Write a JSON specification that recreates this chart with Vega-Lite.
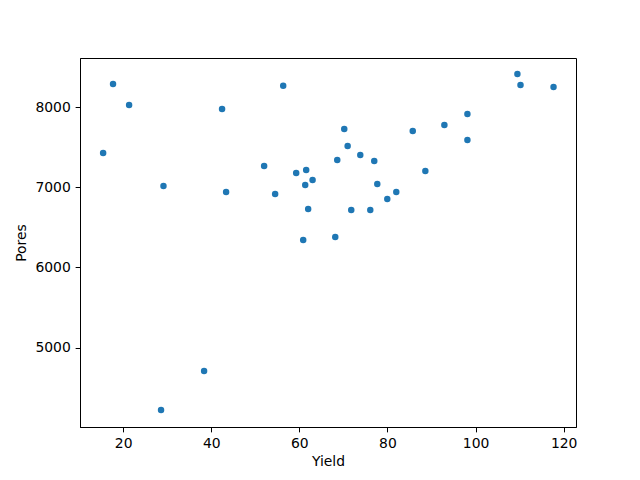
{
  "$schema": "https://vega.github.io/schema/vega-lite/v6.json",
  "autosize": {"type": "none"},
  "width": 496,
  "height": 369,
  "padding": {"left": 80, "top": 58, "right": 64, "bottom": 53},
  "background": "white",
  "config": {
    "view": {"stroke": "black", "strokeWidth": 1},
    "font": "DejaVu Sans",
    "axis": {
      "grid": false,
      "domainColor": "black",
      "domainWidth": 1,
      "tickColor": "black",
      "tickSize": 4.86,
      "tickWidth": 1,
      "labelPadding": 4.86,
      "labelFont": "DejaVu Sans",
      "labelFontSize": 13.9,
      "labelColor": "black",
      "titleFont": "DejaVu Sans",
      "titleFontSize": 13.9,
      "titleFontWeight": "normal",
      "titleColor": "black"
    }
  },
  "data": {
    "values": [
      {"Yield": 17.7, "Pores": 8287},
      {"Yield": 21.35, "Pores": 8025},
      {"Yield": 15.45, "Pores": 7426},
      {"Yield": 29.15, "Pores": 7015},
      {"Yield": 42.45, "Pores": 7975},
      {"Yield": 43.37, "Pores": 6940},
      {"Yield": 56.33, "Pores": 8266},
      {"Yield": 52.0, "Pores": 7264},
      {"Yield": 54.5, "Pores": 6915},
      {"Yield": 59.28, "Pores": 7177},
      {"Yield": 61.55, "Pores": 7214},
      {"Yield": 63.0, "Pores": 7090},
      {"Yield": 61.33, "Pores": 7027},
      {"Yield": 62.0, "Pores": 6728},
      {"Yield": 60.87, "Pores": 6342},
      {"Yield": 109.5, "Pores": 8411},
      {"Yield": 110.2, "Pores": 8274},
      {"Yield": 117.7, "Pores": 8249},
      {"Yield": 98.15, "Pores": 7913},
      {"Yield": 98.15, "Pores": 7589},
      {"Yield": 92.92, "Pores": 7776},
      {"Yield": 85.74, "Pores": 7701},
      {"Yield": 88.6, "Pores": 7202},
      {"Yield": 70.19, "Pores": 7726},
      {"Yield": 70.96, "Pores": 7514},
      {"Yield": 68.6, "Pores": 7339},
      {"Yield": 73.83, "Pores": 7401},
      {"Yield": 77.0, "Pores": 7327},
      {"Yield": 77.69, "Pores": 7040},
      {"Yield": 82.0, "Pores": 6940},
      {"Yield": 79.96, "Pores": 6853},
      {"Yield": 71.78, "Pores": 6716},
      {"Yield": 76.1, "Pores": 6716},
      {"Yield": 68.15, "Pores": 6379},
      {"Yield": 38.37, "Pores": 4708},
      {"Yield": 28.6, "Pores": 4222}
    ]
  },
  "mark": {"type": "circle", "size": 42, "color": "#1f77b4", "opacity": 1},
  "encoding": {
    "x": {
      "field": "Yield",
      "type": "quantitative",
      "scale": {"domain": [10.2, 122.8], "nice": false, "zero": false},
      "axis": {"values": [20, 40, 60, 80, 100, 120], "title": "Yield", "titlePadding": 4}
    },
    "y": {
      "field": "Pores",
      "type": "quantitative",
      "scale": {"domain": [4011, 8611], "nice": false, "zero": false},
      "axis": {"values": [5000, 6000, 7000, 8000], "format": "d", "title": "Pores", "titlePadding": 6}
    }
  }
}
